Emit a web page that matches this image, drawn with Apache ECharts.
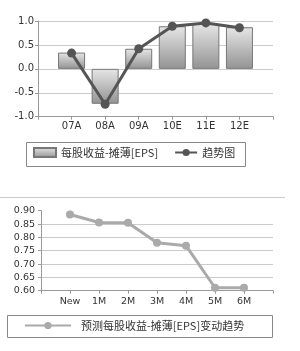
<!DOCTYPE html>
<html>
<head>
<meta charset="utf-8">
<script src="https://cdn.jsdelivr.net/npm/echarts@6/dist/echarts.min.js"></script>
<style>html,body{margin:0;padding:0;background:#fff}#c{width:300px;height:351px}</style>
</head>
<body>
<div id="c"></div>
<script>
var topCategories = ['07A', '08A', '09A', '10E', '11E', '12E'];
var epsValues = [0.34, -0.73, 0.42, 0.89, 0.94, 0.87];
var trendValues = [0.33, -0.74, 0.42, 0.89, 0.96, 0.86];
var topTicks = [-1.0, -0.5, 0.0, 0.5, 1.0];

var bottomCategories = ['New', '1M', '2M', '3M', '4M', '5M', '6M'];
var forecastValues = [0.886, 0.856, 0.855, 0.780, 0.769, 0.611, 0.611];
var bottomTicks = [0.60, 0.65, 0.70, 0.75, 0.80, 0.85, 0.90];

function pad(arr, v) { return [v].concat(arr, [v]); }

var chart = echarts.init(document.getElementById('c'));
var labelFont = { fontFamily: 'DejaVu Sans', fontSize: 10, color: '#333' };
var cjk = 'Noto Sans CJK SC';

chart.setOption({
  animation: false,
  graphic: [
    { type: 'rect', shape: { x: 26.5, y: 142.5, width: 219, height: 24 }, style: { fill: '#fff', stroke: '#888', lineWidth: 1 } },
    { type: 'line', shape: { x1: 0, y1: 197.5, x2: 285, y2: 197.5 }, style: { stroke: '#ccc', lineWidth: 1 } },
    { type: 'rect', shape: { x: 7.5, y: 315.5, width: 265, height: 22 }, style: { fill: '#fff', stroke: '#888', lineWidth: 1 } }
  ],
  legend: [
    { left: 28, top: 147, padding: [0, 0, 0, 5], itemWidth: 22, itemHeight: 9, itemGap: 16,
      data: [{ name: '每股收益-摊薄[EPS]', icon: 'rect' }, { name: '趋势图' }],
      textStyle: { fontFamily: cjk, fontSize: 11, color: '#333' } },
    { left: 19, top: 320, padding: [0, 0, 0, 5], itemWidth: 46, itemHeight: 9,
      data: ['预测每股收益-摊薄[EPS]变动趋势'],
      textStyle: { fontFamily: cjk, fontSize: 11, color: '#333', padding: [0, 0, 0, 5] } }
  ],
  grid: [
    { left: 38, right: 27, top: 21, height: 95.7 },
    { left: 41, right: 27, top: 210.7, height: 80 }
  ],
  xAxis: [
    { type: 'category', gridIndex: 0, boundaryGap: false, data: pad(topCategories, ''),
      axisLine: { onZero: false, lineStyle: { color: '#999' } },
      axisTick: { interval: 0, length: 3, lineStyle: { color: '#999' } },
      axisLabel: Object.assign({ interval: 0, margin: 5 }, labelFont) },
    { type: 'category', gridIndex: 1, boundaryGap: false, data: pad(bottomCategories, ''),
      axisLine: { onZero: false, lineStyle: { color: '#999' } },
      axisTick: { interval: 0, length: 3, lineStyle: { color: '#999' } },
      axisLabel: Object.assign({ interval: 0, margin: 6 }, labelFont, { fontSize: 9.5 }) }
  ],
  yAxis: [
    { type: 'value', gridIndex: 0, min: topTicks[0], max: topTicks[topTicks.length - 1], interval: 0.5,
      axisLine: { show: true, lineStyle: { color: '#999' } },
      axisTick: { show: true, length: 3, lineStyle: { color: '#999' } },
      splitLine: { lineStyle: { color: '#ccc' } },
      axisLabel: Object.assign({ margin: 4, formatter: function (v) { return v.toFixed(1); } }, labelFont) },
    { type: 'value', gridIndex: 1, min: bottomTicks[0], max: bottomTicks[bottomTicks.length - 1], interval: 0.05,
      axisLine: { show: true, lineStyle: { color: '#999' } },
      axisTick: { show: true, length: 3, lineStyle: { color: '#999' } },
      splitLine: { showMaxLine: false, lineStyle: { color: '#ccc' } },
      axisLabel: Object.assign({ margin: 6, formatter: function (v) { return v.toFixed(2); } }, labelFont, { fontSize: 9.5 }) }
  ],
  series: [
    { name: '每股收益-摊薄[EPS]', type: 'bar', xAxisIndex: 0, yAxisIndex: 0, barWidth: 27,
      data: pad(epsValues, '-'),
      itemStyle: { borderColor: '#777', borderWidth: 1,
        color: new echarts.graphic.LinearGradient(0, 0, 0, 1, [{ offset: 0, color: '#e6e6e6' }, { offset: 1, color: '#939393' }]) } },
    { name: '趋势图', type: 'line', xAxisIndex: 0, yAxisIndex: 0, data: pad(trendValues, '-'),
      symbol: 'circle', symbolSize: 9, lineStyle: { color: '#555', width: 3 }, itemStyle: { color: '#555' } },
    { name: '预测每股收益-摊薄[EPS]变动趋势', type: 'line', xAxisIndex: 1, yAxisIndex: 1, data: pad(forecastValues, '-'),
      symbol: 'circle', symbolSize: 8, lineStyle: { color: '#aaa', width: 3 }, itemStyle: { color: '#aaa' } }
  ]
});
</script>
</body>
</html>
